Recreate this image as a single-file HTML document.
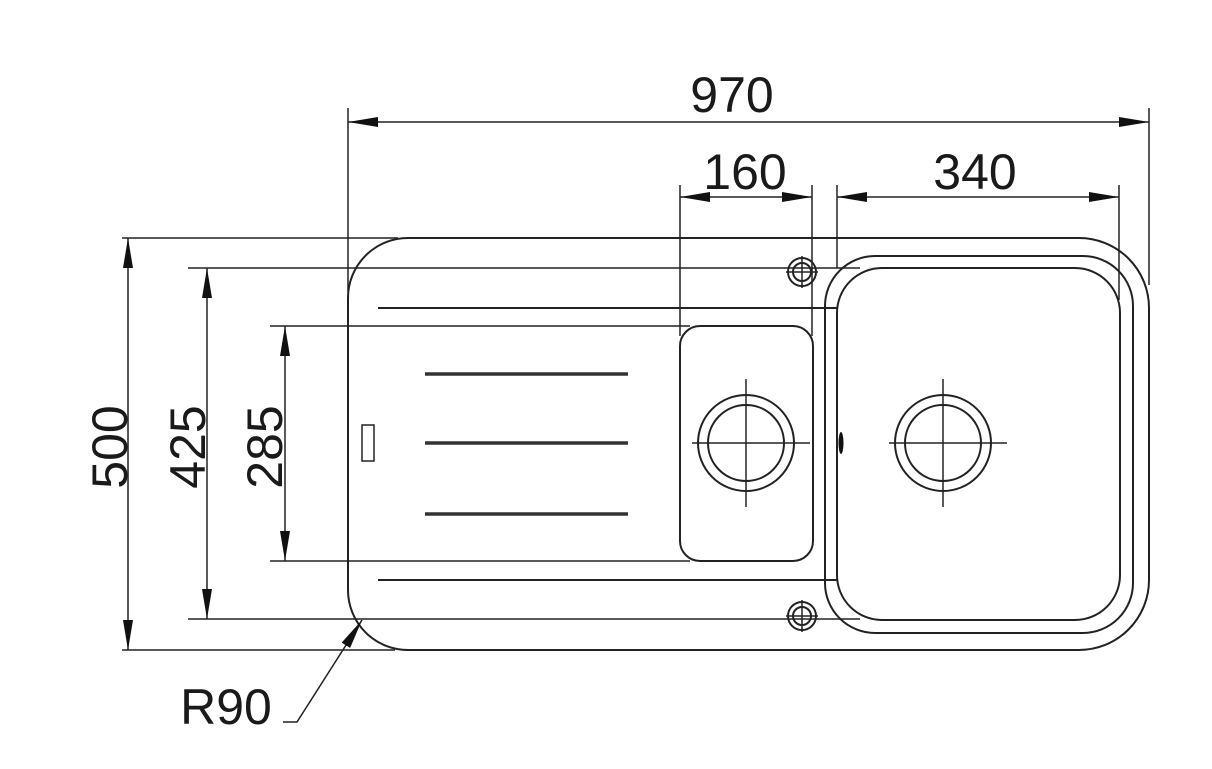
<!DOCTYPE html>
<html><head><style>html,body{margin:0;padding:0;background:#fff}svg{display:block}</style></head><body>
<svg width="1212" height="769" viewBox="0 0 1212 769" xmlns="http://www.w3.org/2000/svg">
<defs>
<marker id="a" viewBox="0 0 30 10" refX="30" refY="5" markerWidth="30" markerHeight="10" markerUnits="userSpaceOnUse" orient="auto-start-reverse"><path d="M0,0L30,5L0,10z" fill="#111"/></marker>
</defs>
<g fill="none" stroke="#222" stroke-width="2">
<path d="M408,238 H1079 A70,70 0 0 1 1149,308 V580 A70,70 0 0 1 1079,650 H408 A60,60 0 0 1 348,590 V298 A60,60 0 0 1 408,238 Z"/>
<path d="M875,256 H1083 A50,50 0 0 1 1133,306 V583 A50,50 0 0 1 1083,633 H875 A50,50 0 0 1 825,583 V580 M825,308 V306 A50,50 0 0 1 875,256"/>
<line x1="825" y1="308" x2="825" y2="580"/>
<rect x="837" y="268" width="283" height="352" rx="45"/>
<line x1="378" y1="308" x2="837" y2="308"/>
<line x1="378" y1="580" x2="837" y2="580"/>
<rect x="680" y="326" width="133" height="235" rx="20"/>
<circle cx="746" cy="443" r="48"/><circle cx="746" cy="443" r="38"/>
<circle cx="943" cy="443" r="48"/><circle cx="943" cy="443" r="38"/>
<circle cx="802" cy="272" r="14"/><circle cx="802" cy="272" r="9"/>
<circle cx="802" cy="616" r="14"/><circle cx="802" cy="616" r="9"/>
<rect x="362" y="425" width="12" height="36" stroke-width="1.5"/>
</g>
<g stroke="#222" stroke-width="1.5" fill="none">
<line x1="692" y1="443" x2="810" y2="443"/><line x1="746" y1="379" x2="746" y2="507"/>
<line x1="889" y1="443" x2="1007" y2="443"/><line x1="943" y1="379" x2="943" y2="507"/>
<line x1="786" y1="272" x2="818" y2="272"/><line x1="802" y1="256" x2="802" y2="288"/>
<line x1="786" y1="616" x2="818" y2="616"/><line x1="802" y1="600" x2="802" y2="632"/>
<line x1="348" y1="108" x2="348" y2="292"/>
<line x1="1149" y1="108" x2="1149" y2="285"/>
<line x1="680" y1="185" x2="680" y2="336"/>
<line x1="812" y1="185" x2="812" y2="336"/>
<line x1="837" y1="185" x2="837" y2="268"/>
<line x1="1119" y1="185" x2="1119" y2="300"/>
<line x1="122" y1="238" x2="398" y2="238"/>
<line x1="122" y1="650" x2="395" y2="650"/>
<line x1="188" y1="268" x2="860" y2="268"/>
<line x1="188" y1="619" x2="860" y2="619"/>
<line x1="270" y1="326" x2="690" y2="326"/>
<line x1="270" y1="561" x2="690" y2="561"/>
<line x1="348" y1="122" x2="1149" y2="122" marker-start="url(#a)" marker-end="url(#a)"/>
<line x1="680" y1="197" x2="812" y2="197" marker-start="url(#a)" marker-end="url(#a)"/>
<line x1="837" y1="197" x2="1119" y2="197" marker-start="url(#a)" marker-end="url(#a)"/>
<line x1="128" y1="238" x2="128" y2="650" marker-start="url(#a)" marker-end="url(#a)"/>
<line x1="207" y1="268" x2="207" y2="619" marker-start="url(#a)" marker-end="url(#a)"/>
<line x1="285" y1="326" x2="285" y2="561" marker-start="url(#a)" marker-end="url(#a)"/>
<polyline points="283,722 297,722 362,620" marker-end="url(#a)"/>
</g>
<g stroke="#333" stroke-width="3.5">
<line x1="425" y1="374" x2="628" y2="374"/>
<line x1="425" y1="443" x2="628" y2="443"/>
<line x1="425" y1="514" x2="628" y2="514"/>
</g>
<ellipse cx="841" cy="443" rx="2.5" ry="11" fill="#111"/>
<g font-family="Liberation Sans, sans-serif" font-size="50" fill="#1a1a1a" text-anchor="middle">
<text x="732" y="112">970</text>
<text x="745" y="189">160</text>
<text x="975" y="189">340</text>
<text x="226" y="724">R90</text>
<text transform="translate(127,447) rotate(-90)">500</text>
<text transform="translate(205,447) rotate(-90)">425</text>
<text transform="translate(282,447) rotate(-90)">285</text>
</g>
</svg>
</body></html>
